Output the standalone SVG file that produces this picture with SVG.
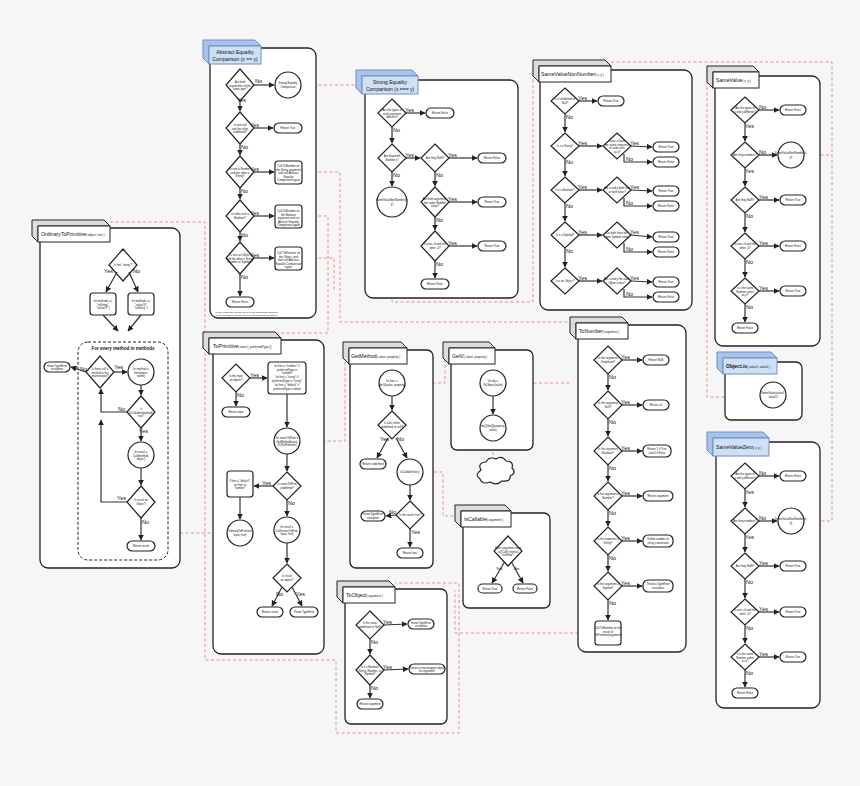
<svg xmlns="http://www.w3.org/2000/svg" width="860" height="786" viewBox="0 0 860 786">
<defs>
<marker id="a" viewBox="0 0 10 10" refX="9" refY="5" markerWidth="5" markerHeight="5" orient="auto"><path d="M0,0 L10,5 L0,10 z" fill="#222"/></marker>
<style>
.f{fill:#fff;stroke:#222;stroke-width:1.3}
.hb{fill:#cfe0f5;stroke:#6a8fc4;stroke-width:1}
.hs{fill:#a9c4e8;stroke:#6a8fc4;stroke-width:1}
.hw{fill:#fff;stroke:#222;stroke-width:1}
.hg{fill:#ddd;stroke:#222;stroke-width:1}
.n{fill:#fff;stroke:#222;stroke-width:1.2}
.c line,.c path{stroke:#333;stroke-width:1.2;fill:none;marker-end:url(#a)}
.r path{stroke:#f08080;stroke-width:0.9;fill:none;stroke-dasharray:3,2.5}
text{font-family:"Liberation Sans",Arial,sans-serif;fill:#111}
.t{font-size:2.8px;text-anchor:middle}
.l{font-size:5.5px}
.h{font-size:6px}
.b{font-size:4.5px;font-weight:bold;text-anchor:middle}
</style>
</defs>
<rect width="860" height="786" fill="#f6f6f6"/>

<g class="r" id="red">
<path d="M302,85 H360"/>
<path d="M302,172 H340 V322 H570"/>
<path d="M302,216 H328 V333 H230"/>
<path d="M302,258 H334 V292"/>
<path d="M392,217 V302 H533 V66 H560"/>
<path d="M600,62 H832 V521 H804"/>
<path d="M804,155 H832"/>
<path d="M720,67 H707 V397 H760"/>
<path d="M110,222 H205 V660 H336 V733 H459 V583 H395"/>
<path d="M300,441 H345 V357"/>
<path d="M227,533 H180"/>
<path d="M405,383 H445 V357"/>
<path d="M423,472 H443 V516 H455"/>
<path d="M493,441 V466"/>
<path d="M506,383 H570"/>
<path d="M595,633 H455 V590"/>
</g>

<g id="abstract">
<rect class="f" x="210" y="48" width="106" height="270" rx="8"/>
<path class="hs" d="M203,40 h52 l6,6 h-52 v18 l-6,-6 z"/>
<rect class="hb" x="209" y="46" width="52" height="18"/>
<text x="235" y="53.5" text-anchor="middle" font-size="5">Abstract Equality</text>
<text x="235" y="60.5" text-anchor="middle" font-size="5">Comparison (x == y)</text>
<polygon class="n" points="240,69 254,85 240,101 226,85"/><text class="t" x="240" y="83">Are both</text><text class="t" x="240" y="86.5">arguments of the</text><text class="t" x="240" y="90">same type?</text>
<polygon class="n" points="240,112 254,128 240,144 226,128"/><text class="t" x="240" y="126">Is one null</text><text class="t" x="240" y="129.5">and the other</text><text class="t" x="240" y="133">undefined?</text>
<polygon class="n" points="240,156 254,172 240,188 226,172"/><text class="t" x="240" y="170">Is one a Number</text><text class="t" x="240" y="173.5">and the other a</text><text class="t" x="240" y="177">String?</text>
<polygon class="n" points="240,200 254,216 240,232 226,216"/><text class="t" x="240" y="215">Is either one a</text><text class="t" x="240" y="218.5">Boolean?</text>
<polygon class="n" points="240,242 254,258 240,274 226,258"/><text class="t" x="240" y="256">Is one an Object</text><text class="t" x="240" y="259.5">and the other a String,</text><text class="t" x="240" y="263">Number or Symbol?</text>
<circle class="n" cx="288" cy="85" r="13"/><text class="t" x="288" y="84">Strong Equality</text><text class="t" x="288" y="87.5">Comparison</text>
<rect class="n" x="274" y="123" width="28" height="10" rx="5"/><text class="t" x="288" y="129">Return True</text>
<rect class="n" x="275" y="161" width="27" height="23" rx="3"/><text class="t" x="288.5" y="167">Call ToNumber on</text><text class="t" x="288.5" y="170.5">the String argument</text><text class="t" x="288.5" y="174">and call Abstract</text><text class="t" x="288.5" y="177.5">Equality</text><text class="t" x="288.5" y="181">Comparison again</text>
<rect class="n" x="275" y="205" width="27" height="23" rx="3"/><text class="t" x="288.5" y="212">Call ToNumber on</text><text class="t" x="288.5" y="215.5">the Boolean</text><text class="t" x="288.5" y="219">argument and run</text><text class="t" x="288.5" y="222.5">Abstract Equality</text><text class="t" x="288.5" y="226">Comparison again</text>
<rect class="n" x="275" y="247" width="27" height="23" rx="3"/><text class="t" x="288.5" y="254">Call ToPrimitive on</text><text class="t" x="288.5" y="257.5">the Object, and</text><text class="t" x="288.5" y="261">then run Abstract</text><text class="t" x="288.5" y="264.5">Equality Comparison</text><text class="t" x="288.5" y="268">again</text>
<rect class="n" x="226" y="297" width="28" height="10" rx="5"/><text class="t" x="240" y="303">Return False</text>
<text font-size="2.3" x="215" y="313">"Is one a Boolean" means: Is one of the arguments a Boolean</text>
<text font-size="2.3" x="215" y="316">"Is one an Object" means: Is one of the arguments an Object</text>
</g>

<g id="ordinary">
<rect class="f" x="40" y="228" width="140" height="340" rx="8"/>
<path class="hg" d="M32,220 h72 l6,6 h-72 v16 l-6,-6 z"/>
<rect class="hw" x="38" y="226" width="72" height="16"/>
<text x="41" y="236" font-size="5.2">OrdinaryToPrimitive<tspan font-size="3">( object, hint )</tspan></text>
<polygon class="n" points="123,249 137,265 123,281 109,265"/><text class="t" x="123" y="266">Is hint "string"?</text>
<rect class="n" x="90" y="293" width="26" height="22" rx="3"/><text class="t" x="103" y="302">let methods = (</text><text class="t" x="103" y="305.5">"toString",</text><text class="t" x="103" y="309">"valueOf" )</text>
<rect class="n" x="128" y="293" width="26" height="22" rx="3"/><text class="t" x="141" y="302">let methods = (</text><text class="t" x="141" y="305.5">"valueOf",</text><text class="t" x="141" y="309">"toString" )</text>
<rect x="78" y="342" width="90" height="218" rx="10" fill="none" stroke="#222" stroke-width="1" stroke-dasharray="3,2"/>
<text class="b" x="123" y="350">For every method in methods</text>
<polygon class="n" points="100,356 114,372 100,388 86,372"/><text class="t" x="100" y="370">Is there still a</text><text class="t" x="100" y="373.5">method in the</text><text class="t" x="100" y="377">enumeration?</text>
<circle class="n" cx="141" cy="372" r="13"/><text class="t" x="141" y="370">let method =</text><text class="t" x="141" y="373.5">Get(object,</text><text class="t" x="141" y="377">name)</text>
<polygon class="n" points="141,396 155,412 141,428 127,412"/><text class="t" x="141" y="410">Is</text><text class="t" x="141" y="413.5">IsCallable(method)</text><text class="t" x="141" y="417">true?</text>
<circle class="n" cx="141" cy="455" r="13"/><text class="t" x="141" y="453">let result =</text><text class="t" x="141" y="456.5">Call(method,</text><text class="t" x="141" y="460">object)</text>
<polygon class="n" points="141,486 155,502 141,518 127,502"/><text class="t" x="141" y="501">Is result an</text><text class="t" x="141" y="504.5">Object?</text>
<rect class="n" x="127" y="541" width="28" height="10" rx="5"/><text class="t" x="141" y="547">Return result</text>
<rect class="n" x="44" y="362" width="26" height="10" rx="5"/><text class="t" x="57" y="366.5">throw TypeError</text><text class="t" x="57" y="369.5">exception</text>
</g>

<g id="strong">
<rect class="f" x="365" y="80" width="153" height="218" rx="8"/>
<path class="hs" d="M356,70 h56 l6,6 h-56 v18 l-6,-6 z"/>
<rect class="hb" x="362" y="76" width="56" height="18"/>
<text x="390" y="83.5" text-anchor="middle" font-size="5">Strong Equality</text>
<text x="390" y="90.5" text-anchor="middle" font-size="5">Comparison (x === y)</text>
<polygon class="n" points="392,99 406,113 392,127 378,113"/><text class="t" x="392" y="111">Are the types of</text><text class="t" x="392" y="114.5">each argument</text><text class="t" x="392" y="118">different?</text>
<rect class="n" x="426" y="108" width="28" height="10" rx="5"/><text class="t" x="440" y="114">Return False</text>
<polygon class="n" points="392,144 406,158 392,172 378,158"/><text class="t" x="392" y="157">Are they both</text><text class="t" x="392" y="160.5">Numbers?</text>
<polygon class="n" points="435,144 449,158 435,172 421,158"/><text class="t" x="435" y="159">Are they NaN?</text>
<rect class="n" x="478" y="153" width="28" height="10" rx="5"/><text class="t" x="492" y="159">Return False</text>
<circle class="n" cx="392" cy="202" r="15"/><text class="t" x="392" y="201">SameValueNonNumber(x,</text><text class="t" x="392" y="204.5">y)</text>
<polygon class="n" points="435,187 449,202 435,217 421,202"/><text class="t" x="435" y="200">Are both arguments</text><text class="t" x="435" y="203.5">the same Number</text><text class="t" x="435" y="207">value?</text>
<rect class="n" x="478" y="197" width="28" height="10" rx="5"/><text class="t" x="492" y="203">Return True</text>
<polygon class="n" points="435,231 449,246 435,261 421,246"/><text class="t" x="435" y="245">Is one +0 and the</text><text class="t" x="435" y="248.5">other -0?</text>
<rect class="n" x="478" y="241" width="28" height="10" rx="5"/><text class="t" x="492" y="247">Return True</text>
<rect class="n" x="421" y="279" width="28" height="10" rx="5"/><text class="t" x="435" y="285">Return False</text>
</g>

<g id="svnn">
<rect class="f" x="540" y="70" width="152" height="240" rx="8"/>
<path class="hg" d="M533,60 h72 l6,6 h-72 v16 l-6,-6 z"/>
<rect class="hw" x="539" y="66" width="72" height="16"/>
<text x="541" y="76" font-size="5.2">SameValueNonNumber<tspan font-size="3">( x, y )</tspan></text>
<polygon class="n" points="565,88 579,101 565,114 551,101"/><text class="t" x="565" y="100">Is x Undefined or</text><text class="t" x="565" y="103.5">Null?</text>
<rect class="n" x="598" y="96" width="26" height="10" rx="5"/><text class="t" x="611" y="102">Return True</text>
<polygon class="n" points="565,133 579,146 565,159 551,146"/><text class="t" x="565" y="147">Is x a String?</text>
<polygon class="n" points="617,133 631,146 617,159 603,146"/><text class="t" x="617" y="142">Does x have</text><text class="t" x="617" y="145.5">the same sequence</text><text class="t" x="617" y="149">of code units</text><text class="t" x="617" y="152.5">as y?</text>
<polygon class="n" points="565,177 579,190 565,203 551,190"/><text class="t" x="565" y="191">Is x a Boolean?</text>
<polygon class="n" points="617,177 631,190 617,203 603,190"/><text class="t" x="617" y="189">Are x and y both true</text><text class="t" x="617" y="192.5">or both false?</text>
<polygon class="n" points="565,222 579,235 565,248 551,235"/><text class="t" x="565" y="236">Is x a Symbol?</text>
<polygon class="n" points="617,222 631,235 617,248 603,235"/><text class="t" x="617" y="234">Do both have the</text><text class="t" x="617" y="237.5">same Symbol value?</text>
<polygon class="n" points="565,268 579,281 565,294 551,281"/><text class="t" x="565" y="282">Is x an Object?</text>
<polygon class="n" points="617,268 631,281 617,294 603,281"/><text class="t" x="617" y="280">Are x and y the same</text><text class="t" x="617" y="283.5">Object value?</text>
<rect class="n" x="653" y="142" width="26" height="10" rx="5"/><text class="t" x="666" y="148">Return True</text>
<rect class="n" x="653" y="157" width="26" height="10" rx="5"/><text class="t" x="666" y="163">Return False</text>
<rect class="n" x="653" y="186" width="26" height="10" rx="5"/><text class="t" x="666" y="192">Return True</text>
<rect class="n" x="653" y="201" width="26" height="10" rx="5"/><text class="t" x="666" y="207">Return False</text>
<rect class="n" x="653" y="232" width="26" height="10" rx="5"/><text class="t" x="666" y="238">Return True</text>
<rect class="n" x="653" y="247" width="26" height="10" rx="5"/><text class="t" x="666" y="253">Return False</text>
<rect class="n" x="653" y="277" width="26" height="10" rx="5"/><text class="t" x="666" y="283">Return True</text>
<rect class="n" x="653" y="292" width="26" height="10" rx="5"/><text class="t" x="666" y="298">Return False</text>
</g>

<g id="samevalue">
<rect class="f" x="715" y="76" width="105" height="270" rx="8"/>
<path class="hg" d="M707,66 h46 l6,6 h-46 v16 l-6,-6 z"/>
<rect class="hw" x="713" y="72" width="46" height="16"/>
<text x="716" y="82" font-size="5.2">SameValue<tspan font-size="3">( x, y )</tspan></text>
<polygon class="n" points="745,97 759,110 745,123 731,110"/><text class="t" x="745" y="109">Are the types of</text><text class="t" x="745" y="112.5">x and y different?</text>
<rect class="n" x="780" y="105" width="26" height="10" rx="5"/><text class="t" x="793" y="111">Return False</text>
<polygon class="n" points="745,142 759,155 745,168 731,155"/><text class="t" x="745" y="156">Are they numbers?</text>
<circle class="n" cx="791" cy="155" r="13"/><text class="t" x="791" y="154">SameValueNonNumber(x,</text><text class="t" x="791" y="157.5">y)</text>
<polygon class="n" points="745,187 759,200 745,213 731,200"/><text class="t" x="745" y="201">Are they NaN?</text>
<rect class="n" x="780" y="195" width="26" height="10" rx="5"/><text class="t" x="793" y="201">Return True</text>
<polygon class="n" points="745,233 759,246 745,259 731,246"/><text class="t" x="745" y="245">Is one +0 and the</text><text class="t" x="745" y="248.5">other -0?</text>
<rect class="n" x="780" y="241" width="26" height="10" rx="5"/><text class="t" x="793" y="247">Return False</text>
<polygon class="n" points="745,278 759,291 745,304 731,291"/><text class="t" x="745" y="289">Is x the same</text><text class="t" x="745" y="292.5">Number value</text><text class="t" x="745" y="296">as y?</text>
<rect class="n" x="780" y="286" width="26" height="10" rx="5"/><text class="t" x="793" y="292">Return True</text>
<rect class="n" x="732" y="323" width="26" height="10" rx="5"/><text class="t" x="745" y="329">Return False</text>
</g>

<g id="objectis">
<rect class="f" x="725" y="362" width="77" height="58" rx="6"/>
<path class="hs" d="M717,352 h54 l6,6 h-54 v16 l-6,-6 z"/>
<rect class="hb" x="723" y="358" width="54" height="16"/>
<text x="726" y="368" font-size="5" font-weight="bold">Object.is<tspan font-size="3" font-weight="normal">( value1, value2 )</tspan></text>
<circle class="n" cx="773" cy="395" r="13"/><text class="t" x="773" y="394">SameValue(value1,</text><text class="t" x="773" y="397.5">value2)</text>
</g>

<g id="svz">
<rect class="f" x="716" y="442" width="104" height="266" rx="8"/>
<path class="hs" d="M707,432 h56 l6,6 h-56 v18 l-6,-6 z"/>
<rect class="hb" x="713" y="438" width="56" height="18"/>
<text x="716" y="449" font-size="5.2">SameValueZero<tspan font-size="3">( x, y )</tspan></text>
<polygon class="n" points="745,463 759,476 745,489 731,476"/><text class="t" x="745" y="475">Are the types of</text><text class="t" x="745" y="478.5">x and y different?</text>
<rect class="n" x="780" y="471" width="26" height="10" rx="5"/><text class="t" x="793" y="477">Return False</text>
<polygon class="n" points="745,508 759,521 745,534 731,521"/><text class="t" x="745" y="522">Are they numbers?</text>
<circle class="n" cx="791" cy="521" r="13"/><text class="t" x="791" y="520">SameValueNonNumber(x,</text><text class="t" x="791" y="523.5">y)</text>
<polygon class="n" points="745,553 759,566 745,579 731,566"/><text class="t" x="745" y="567">Are they NaN?</text>
<rect class="n" x="780" y="561" width="26" height="10" rx="5"/><text class="t" x="793" y="567">Return True</text>
<polygon class="n" points="745,599 759,612 745,625 731,612"/><text class="t" x="745" y="611">Is one +0 and the</text><text class="t" x="745" y="614.5">other -0?</text>
<rect class="n" x="780" y="607" width="26" height="10" rx="5"/><text class="t" x="793" y="613">Return True</text>
<polygon class="n" points="745,644 759,657 745,670 731,657"/><text class="t" x="745" y="655">Is x the same</text><text class="t" x="745" y="658.5">Number value</text><text class="t" x="745" y="662">as y?</text>
<rect class="n" x="780" y="652" width="26" height="10" rx="5"/><text class="t" x="793" y="658">Return True</text>
<rect class="n" x="732" y="688" width="26" height="10" rx="5"/><text class="t" x="745" y="694">Return False</text>
</g>

<g id="toprimitive">
<rect class="f" x="213" y="340" width="111" height="314" rx="8"/>
<path class="hg" d="M203,332 h72 l6,6 h-72 v16 l-6,-6 z"/>
<rect class="hw" x="209" y="338" width="72" height="16"/>
<text x="213" y="348" font-size="5.2">ToPrimitive<tspan font-size="3">( input [, preferredType ])</tspan></text>
<polygon class="n" points="236,364 250,378 236,392 222,378"/><text class="t" x="236" y="377">Is the input</text><text class="t" x="236" y="380.5">an object?</text>
<rect class="n" x="268" y="362" width="38" height="32" rx="3"/><text class="t" x="287" y="367">let hint = "number" if</text><text class="t" x="287" y="370.5">preferredType is</text><text class="t" x="287" y="374">"number"</text><text class="t" x="287" y="378">let hint = "string" if</text><text class="t" x="287" y="381.5">preferredType is "string"</text><text class="t" x="287" y="386">let hint = "default" if</text><text class="t" x="287" y="389.5">preferredType is blank</text>
<rect class="n" x="222" y="407" width="28" height="10" rx="5"/><text class="t" x="236" y="413">Return input</text>
<circle class="n" cx="287" cy="441" r="13"/><text class="t" x="287" y="439">let exoticToPrim =</text><text class="t" x="287" y="442.5">GetMethod(input,</text><text class="t" x="287" y="446">@@toPrimitive)</text>
<polygon class="n" points="287,472 301,486 287,500 273,486"/><text class="t" x="287" y="485">Is exoticToPrim</text><text class="t" x="287" y="488.5">undefined?</text>
<rect class="n" x="227" y="471" width="26" height="26" rx="3"/><text class="t" x="240" y="482">If hint = "default",</text><text class="t" x="240" y="485.5">set hint to</text><text class="t" x="240" y="489">"number"</text>
<circle class="n" cx="240" cy="533" r="13"/><text class="t" x="240" y="532">OrdinaryToPrimitive(</text><text class="t" x="240" y="535.5">input, hint)</text>
<circle class="n" cx="287" cy="530" r="13"/><text class="t" x="287" y="528">let result =</text><text class="t" x="287" y="531.5">Call(exoticToPrim,</text><text class="t" x="287" y="535">input, hint)</text>
<polygon class="n" points="287,564 301,578 287,592 273,578"/><text class="t" x="287" y="577">Is result</text><text class="t" x="287" y="580.5">an object?</text>
<rect class="n" x="257" y="607" width="26" height="10" rx="5"/><text class="t" x="270" y="613">Return result</text>
<rect class="n" x="290" y="607" width="28" height="10" rx="5"/><text class="t" x="304" y="613">Throw TypeError</text>
</g>

<g id="getmethod">
<rect class="f" x="350" y="350" width="83" height="218" rx="6"/>
<path class="hg" d="M343,342 h58 l6,6 h-58 v16 l-6,-6 z"/>
<rect class="hw" x="349" y="348" width="58" height="16"/>
<text x="351" y="358" font-size="5.2">GetMethod<tspan font-size="3">( value, property )</tspan></text>
<circle class="n" cx="392" cy="383" r="13"/><text class="t" x="392" y="382">let func =</text><text class="t" x="392" y="385.5">GetV(value, property)</text>
<polygon class="n" points="392,411 406,425 392,439 378,425"/><text class="t" x="392" y="424">Is func either</text><text class="t" x="392" y="427.5">undefined or null?</text>
<rect class="n" x="360" y="459" width="26" height="10" rx="5"/><text class="t" x="373" y="465">Return undefined</text>
<circle class="n" cx="410" cy="472" r="13"/><text class="t" x="410" y="473">IsCallable(func)</text>
<polygon class="n" points="410,501 424,515 410,529 396,515"/><text class="t" x="410" y="516">Is the result true?</text>
<rect class="n" x="361" y="511" width="24" height="10" rx="5"/><text class="t" x="373" y="515">throw TypeError</text><text class="t" x="373" y="518.5">exception</text>
<rect class="n" x="397" y="548" width="26" height="10" rx="5"/><text class="t" x="410" y="554">Return func</text>
</g>

<g id="getv">
<rect class="f" x="451" y="350" width="82" height="100" rx="6"/>
<path class="hg" d="M443,342 h46 l6,6 h-46 v16 l-6,-6 z"/>
<rect class="hw" x="449" y="348" width="46" height="16"/>
<text x="452" y="358" font-size="5.2">GetV<tspan font-size="3">( value, property )</tspan></text>
<circle class="n" cx="493" cy="383" r="13"/><text class="t" x="493" y="382">let obj =</text><text class="t" x="493" y="385.5">ToObject(value)</text>
<circle class="n" cx="493" cy="428" r="13"/><text class="t" x="493" y="427">obj.[[Get]](property,</text><text class="t" x="493" y="430.5">value)</text>
<path class="n" d="M481,470 q-4,-7 5,-8 q3,-6 10,-3 q6,-4 10,2 q8,0 6,7 q5,5 -2,8 q1,6 -8,5 q-5,5 -12,1 q-8,3 -10,-3 q-6,-4 1,-9 z"/>
</g>

<g id="iscallable">
<rect class="f" x="463" y="513" width="87" height="95" rx="6"/>
<path class="hg" d="M455,505 h50 l6,6 h-50 v16 l-6,-6 z"/>
<rect class="hw" x="461" y="511" width="50" height="16"/>
<text x="464" y="521" font-size="5.2">IsCallable<tspan font-size="3">( argument )</tspan></text>
<polygon class="n" points="508,536 522,551 508,566 494,551"/><text class="t" x="508" y="549">Does argument have</text><text class="t" x="508" y="552.5">a [[Call]] internal</text><text class="t" x="508" y="556">method?</text>
<rect class="n" x="478" y="584" width="24" height="9" rx="4.5"/><text class="t" x="490" y="589.5">Return True</text>
<rect class="n" x="513" y="584" width="24" height="9" rx="4.5"/><text class="t" x="525" y="589.5">Return False</text>
</g>

<g id="toobject">
<rect class="f" x="345" y="589" width="102" height="135" rx="6"/>
<path class="hg" d="M337,581 h52 l6,6 h-52 v16 l-6,-6 z"/>
<rect class="hw" x="343" y="587" width="52" height="16"/>
<text x="346" y="597" font-size="5.2">ToObject<tspan font-size="3">( argument )</tspan></text>
<polygon class="n" points="370,611 384,625 370,639 356,625"/><text class="t" x="370" y="624">Is the value</text><text class="t" x="370" y="627.5">undefined or Null?</text>
<rect class="n" x="408" y="619" width="26" height="10" rx="5"/><text class="t" x="421" y="623.5">throw TypeError</text><text class="t" x="421" y="627">exception</text>
<polygon class="n" points="370,655 384,670 370,685 356,670"/><text class="t" x="370" y="668">Is it a Boolean,</text><text class="t" x="370" y="671.5">String, Number, or</text><text class="t" x="370" y="675">Symbol?</text>
<rect class="n" x="409" y="664" width="36" height="10" rx="5"/><text class="t" x="427" y="668.5">Return a new wrapper object</text><text class="t" x="427" y="672">for argument</text>
<rect class="n" x="357" y="699" width="26" height="10" rx="5"/><text class="t" x="370" y="705">Return argument</text>
</g>

<g id="tonumber">
<rect class="f" x="578" y="325" width="108" height="327" rx="8"/>
<path class="hg" d="M570,317 h52 l6,6 h-52 v16 l-6,-6 z"/>
<rect class="hw" x="576" y="323" width="52" height="16"/>
<text x="579" y="333" font-size="5.2">ToNumber<tspan font-size="3">( argument )</tspan></text>
<polygon class="n" points="608,346 622,360 608,374 594,360"/><text class="t" x="608" y="359">Is the argument</text><text class="t" x="608" y="362.5">Undefined?</text>
<rect class="n" x="643" y="355" width="26" height="10" rx="5"/><text class="t" x="656" y="361">Return NaN</text>
<polygon class="n" points="608,391 622,405 608,419 594,405"/><text class="t" x="608" y="404">Is the argument</text><text class="t" x="608" y="407.5">Null?</text>
<rect class="n" x="643" y="400" width="26" height="10" rx="5"/><text class="t" x="656" y="406">Return +0</text>
<polygon class="n" points="608,437 622,451 608,465 594,451"/><text class="t" x="608" y="450">Is the argument</text><text class="t" x="608" y="453.5">Boolean?</text>
<rect class="n" x="643" y="445" width="28" height="12" rx="5"/><text class="t" x="657" y="450">Return 1 if True</text><text class="t" x="657" y="453.5">and 0 if False</text>
<polygon class="n" points="608,482 622,496 608,510 594,496"/><text class="t" x="608" y="495">Is the argument a</text><text class="t" x="608" y="498.5">Number?</text>
<rect class="n" x="643" y="491" width="30" height="10" rx="5"/><text class="t" x="658" y="497">Return argument</text>
<polygon class="n" points="608,527 622,541 608,555 594,541"/><text class="t" x="608" y="540">Is the argument a</text><text class="t" x="608" y="543.5">String?</text>
<rect class="n" x="643" y="535" width="30" height="12" rx="5"/><text class="t" x="658" y="540">Follow number to</text><text class="t" x="658" y="543.5">string conversion</text>
<polygon class="n" points="608,572 622,586 608,600 594,586"/><text class="t" x="608" y="585">Is the argument a</text><text class="t" x="608" y="588.5">Symbol?</text>
<rect class="n" x="643" y="580" width="30" height="12" rx="5"/><text class="t" x="658" y="585">Throw a TypeError</text><text class="t" x="658" y="588.5">exception</text>
<rect class="n" x="595" y="621" width="26" height="24" rx="3"/><text class="t" x="608" y="629">Call ToNumber on the</text><text class="t" x="608" y="632.5">result of</text><text class="t" x="608" y="636">ToPrimitive(argument)</text>
</g>

<g class="c" id="connectors">
<line x1="254" y1="85" x2="274" y2="85"/><line x1="240" y1="101" x2="240" y2="111"/>
<line x1="254" y1="128" x2="273" y2="128"/><line x1="240" y1="144" x2="240" y2="155"/>
<line x1="254" y1="172" x2="274" y2="172"/><line x1="240" y1="188" x2="240" y2="199"/>
<line x1="254" y1="216" x2="274" y2="216"/><line x1="240" y1="232" x2="240" y2="241"/>
<line x1="254" y1="258" x2="274" y2="258"/><line x1="240" y1="274" x2="240" y2="296"/>
<line x1="117" y1="272" x2="106" y2="292"/><line x1="129" y1="272" x2="138" y2="292"/>
<line x1="103" y1="315" x2="118" y2="331"/><line x1="141" y1="315" x2="128" y2="331"/>
<line x1="114" y1="372" x2="127" y2="372"/><line x1="86" y1="372" x2="71" y2="367"/>
<line x1="141" y1="385" x2="141" y2="395"/><line x1="141" y1="428" x2="141" y2="441"/>
<line x1="141" y1="468" x2="141" y2="485"/><line x1="141" y1="518" x2="141" y2="540"/>
<path d="M127,412 H101 V389"/><path d="M127,502 H101 V420"/>
<line x1="406" y1="113" x2="425" y2="113"/><line x1="392" y1="127" x2="392" y2="143"/>
<line x1="406" y1="158" x2="420" y2="158"/><line x1="392" y1="172" x2="392" y2="186"/>
<line x1="449" y1="158" x2="477" y2="158"/><line x1="435" y1="172" x2="435" y2="186"/>
<line x1="449" y1="202" x2="477" y2="202"/><line x1="435" y1="217" x2="435" y2="230"/>
<line x1="449" y1="246" x2="477" y2="246"/><line x1="435" y1="261" x2="435" y2="278"/>
<line x1="579" y1="101" x2="597" y2="101"/><line x1="565" y1="114" x2="565" y2="132"/>
<line x1="579" y1="146" x2="602" y2="146"/><line x1="565" y1="159" x2="565" y2="176"/>
<line x1="579" y1="190" x2="602" y2="190"/><line x1="565" y1="203" x2="565" y2="221"/>
<line x1="579" y1="235" x2="602" y2="235"/><line x1="565" y1="248" x2="565" y2="267"/>
<line x1="579" y1="281" x2="602" y2="281"/>
<line x1="631" y1="146" x2="652" y2="147"/><path d="M624,154 V162 H652"/>
<line x1="631" y1="190" x2="652" y2="191"/><path d="M624,198 V206 H652"/>
<line x1="631" y1="235" x2="652" y2="237"/><path d="M624,243 V252 H652"/>
<line x1="631" y1="281" x2="652" y2="282"/><path d="M624,289 V297 H652"/>
<line x1="759" y1="110" x2="779" y2="110"/><line x1="745" y1="123" x2="745" y2="141"/>
<line x1="759" y1="155" x2="777" y2="155"/><line x1="745" y1="168" x2="745" y2="186"/>
<line x1="759" y1="200" x2="779" y2="200"/><line x1="745" y1="213" x2="745" y2="232"/>
<line x1="759" y1="246" x2="779" y2="246"/><line x1="745" y1="259" x2="745" y2="277"/>
<line x1="759" y1="291" x2="779" y2="291"/><line x1="745" y1="304" x2="745" y2="322"/>
<line x1="759" y1="476" x2="779" y2="476"/><line x1="745" y1="489" x2="745" y2="507"/>
<line x1="759" y1="521" x2="777" y2="521"/><line x1="745" y1="534" x2="745" y2="552"/>
<line x1="759" y1="566" x2="779" y2="566"/><line x1="745" y1="579" x2="745" y2="598"/>
<line x1="759" y1="612" x2="779" y2="612"/><line x1="745" y1="625" x2="745" y2="643"/>
<line x1="759" y1="657" x2="779" y2="657"/><line x1="745" y1="670" x2="745" y2="687"/>
<line x1="250" y1="378" x2="267" y2="378"/><line x1="236" y1="392" x2="236" y2="406"/>
<line x1="287" y1="394" x2="287" y2="427"/><line x1="287" y1="454" x2="287" y2="471"/>
<line x1="273" y1="486" x2="254" y2="486"/><line x1="240" y1="497" x2="240" y2="519"/>
<line x1="287" y1="500" x2="287" y2="516"/><line x1="287" y1="543" x2="287" y2="563"/>
<line x1="282" y1="587" x2="272" y2="606"/><line x1="292" y1="587" x2="302" y2="606"/>
<line x1="392" y1="396" x2="392" y2="410"/><line x1="388" y1="438" x2="377" y2="458"/>
<line x1="396" y1="438" x2="407" y2="458"/><line x1="410" y1="485" x2="410" y2="500"/>
<line x1="396" y1="515" x2="386" y2="516"/><line x1="410" y1="529" x2="410" y2="547"/>
<line x1="493" y1="396" x2="493" y2="414"/>
<line x1="504" y1="563" x2="492" y2="583"/><line x1="512" y1="563" x2="523" y2="583"/>
<line x1="384" y1="625" x2="407" y2="624"/><line x1="370" y1="639" x2="370" y2="654"/>
<line x1="384" y1="670" x2="408" y2="669"/><line x1="370" y1="685" x2="370" y2="698"/>
<line x1="622" y1="360" x2="642" y2="360"/><line x1="608" y1="374" x2="608" y2="390"/>
<line x1="622" y1="405" x2="642" y2="405"/><line x1="608" y1="419" x2="608" y2="436"/>
<line x1="622" y1="451" x2="642" y2="451"/><line x1="608" y1="465" x2="608" y2="481"/>
<line x1="622" y1="496" x2="642" y2="496"/><line x1="608" y1="510" x2="608" y2="526"/>
<line x1="622" y1="541" x2="642" y2="541"/><line x1="608" y1="555" x2="608" y2="571"/>
<line x1="622" y1="586" x2="642" y2="586"/><line x1="608" y1="600" x2="608" y2="620"/>
</g>

<g id="labels" class="l">
<text x="255" y="83">No</text><text x="237" y="102">Yes</text>
<text x="250" y="127">Yes</text><text x="241" y="149">No</text>
<text x="250" y="171">Yes</text><text x="241" y="193">No</text>
<text x="250" y="215">Yes</text><text x="241" y="237">No</text>
<text x="250" y="257">Yes</text><text x="241" y="279">No</text>
<text x="104" y="273">Yes</text><text x="133" y="273">No</text>
<text x="80" y="371">No</text><text x="114" y="369">Yes</text>
<text x="118" y="411">No</text><text x="139" y="433">Yes</text>
<text x="117" y="500">Yes</text><text x="142" y="524">No</text>
<text x="405" y="112">Yes</text><text x="393" y="132">No</text>
<text x="405" y="157">Yes</text><text x="393" y="177">No</text>
<text x="448" y="157">Yes</text><text x="436" y="177">No</text>
<text x="448" y="201">Yes</text><text x="436" y="222">No</text>
<text x="448" y="245">Yes</text><text x="436" y="266">No</text>
<text x="578" y="100">Yes</text><text x="566" y="119">No</text>
<text x="578" y="145">Yes</text><text x="566" y="164">No</text>
<text x="578" y="189">Yes</text><text x="566" y="208">No</text>
<text x="578" y="234">Yes</text><text x="566" y="253">No</text>
<text x="578" y="280">Yes</text>
<text x="630" y="145">Yes</text><text x="626" y="161">No</text>
<text x="630" y="189">Yes</text><text x="626" y="205">No</text>
<text x="630" y="234">Yes</text><text x="626" y="251">No</text>
<text x="630" y="280">Yes</text><text x="626" y="296">No</text>
<text x="759" y="109">No</text><text x="745" y="128">Yes</text>
<text x="759" y="154">No</text><text x="745" y="173">Yes</text>
<text x="759" y="199">Yes</text><text x="746" y="218">No</text>
<text x="759" y="245">Yes</text><text x="746" y="264">No</text>
<text x="759" y="290">Yes</text><text x="746" y="309">No</text>
<text x="759" y="475">No</text><text x="745" y="494">Yes</text>
<text x="759" y="520">No</text><text x="745" y="539">Yes</text>
<text x="759" y="565">Yes</text><text x="746" y="584">No</text>
<text x="759" y="611">Yes</text><text x="746" y="630">No</text>
<text x="759" y="656">Yes</text><text x="746" y="675">No</text>
<text x="250" y="377">Yes</text><text x="237" y="397">No</text>
<text x="262" y="485">Yes</text><text x="288" y="505">No</text>
<text x="276" y="596">No</text><text x="296" y="596">Yes</text>
<text x="380" y="441">Yes</text><text x="397" y="441">No</text>
<text x="389" y="514">No</text><text x="411" y="534">Yes</text>
<text x="383" y="624">Yes</text><text x="371" y="644">No</text>
<text x="383" y="669">Yes</text><text x="371" y="690">No</text>
<text x="496" y="570" font-size="4">Yes</text><text x="514" y="570" font-size="4">No</text>
<text x="621" y="359">Yes</text><text x="609" y="379">No</text>
<text x="621" y="404">Yes</text><text x="609" y="424">No</text>
<text x="621" y="450">Yes</text><text x="609" y="470">No</text>
<text x="621" y="495">Yes</text><text x="609" y="515">No</text>
<text x="621" y="540">Yes</text><text x="609" y="560">No</text>
<text x="621" y="585">Yes</text><text x="609" y="605">No</text>
</g>
</svg>
